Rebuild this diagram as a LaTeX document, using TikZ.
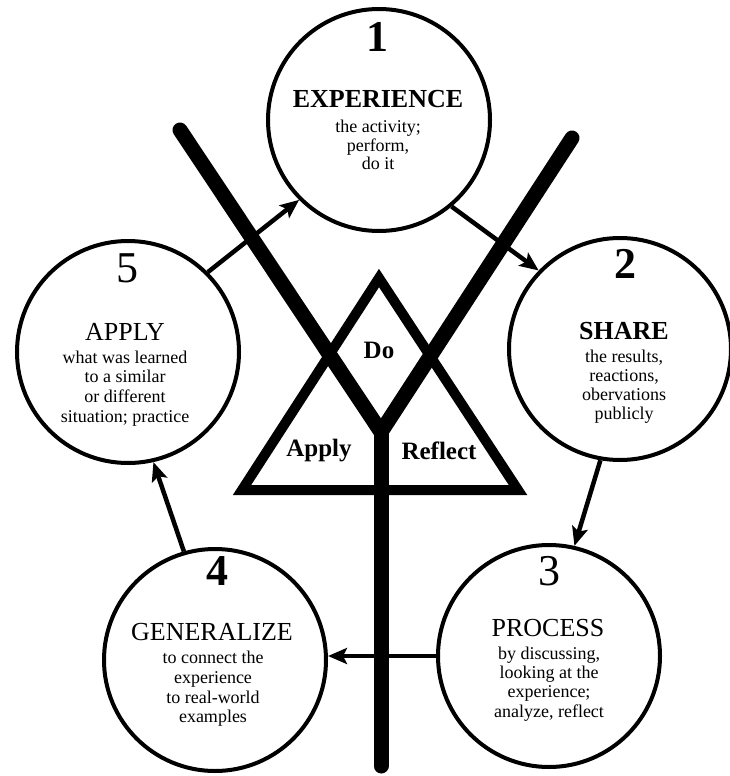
\documentclass[tikz,border=0pt]{standalone}
\usepackage{fontspec}
\setmainfont{Liberation Serif}
\usetikzlibrary{arrows.meta}
\begin{document}
\begin{tikzpicture}[x=1pt,y=-1pt,
  stage/.style={circle,draw,line width=4pt,minimum size=222pt,inner sep=0pt},
  flow/.style={line width=4.5pt,-{Stealth[length=19pt,width=16pt,inset=4pt]}},
  num/.style={anchor=base,inner sep=0pt,font=\fontsize{44}{44}\selectfont},
  numb/.style={anchor=base,inner sep=0pt,font=\fontsize{44}{44}\selectfont\bfseries},
  head/.style={anchor=base,inner sep=0pt,font=\fontsize{26}{26}\selectfont},
  headb/.style={anchor=base,inner sep=0pt,font=\fontsize{26}{26}\selectfont\bfseries},
  body/.style={anchor=base,inner sep=0pt,font=\fontsize{18}{20}\selectfont},
  trilabel/.style={anchor=base,inner sep=0pt,font=\fontsize{25}{25}\selectfont\bfseries},
  ybar/.style={line width=15pt,line cap=round,line join=miter},
  trisides/.style={line width=10pt,line join=miter}
  ]
\useasboundingbox (0,0) rectangle (729,776);

% triangle
\coordinate (ta) at (379,278);
\coordinate (tl) at (242,490);
\coordinate (tr) at (518,490);
\draw[trisides] (ta) -- (tl) -- (tr) -- cycle;

% Y
\coordinate (yl) at (180,130);
\coordinate (yr) at (572,138);
\coordinate (yv) at (381,432);
\coordinate (yb) at (381,766);
\draw[ybar] (yv) -- (yb);
\draw[ybar] (yl) -- (yv) -- (yr);

% circles
\node[stage] (c1) at (379,120) {};
\node[stage] (c2) at (620,349) {};
\node[stage] (c3) at (549,656) {};
\node[stage] (c4) at (215,660) {};
\node[stage] (c5) at (128,352) {};

% arrows
\draw[flow] (c5.45) -- (c1.225);
\draw[flow] (c1.310) -- (c2.136);
\draw[flow] (c2.260) -- (c3.77);
\draw[flow] (c3.west) -- (c3.west -| c4.east);
\draw[flow] (c4.106) -- (c5.283);

% circle 1
\node[numb] (n1) at (377,52) {1};
\node[headb] (h1) at (378,107) {EXPERIENCE};
\node[body] (b1a) at (378,132) {the activity;};
\node[body] (b1b) at (378,151) {perform,};
\node[body] (b1c) at (378,169) {do it};

% circle 2
\node[numb] (n2) at (625,278) {2};
\node[headb] (h2) at (624,339) {SHARE};
\node[body] (b2a) at (624,362) {the results,};
\node[body] (b2b) at (624,381) {reactions,};
\node[body] (b2c) at (624,400) {obervations};
\node[body] (b2d) at (624,419) {publicly};

% circle 3
\node[num] (n3) at (549,585) {3};
\node[head] (h3) at (548,636) {PROCESS};
\node[body] (b3a) at (549,659) {by discussing,};
\node[body] (b3b) at (549,678) {looking at the};
\node[body] (b3c) at (549,697) {experience;};
\node[body] (b3d) at (549,717) {analyze, reflect};

% circle 4
\node[numb] (n4) at (217,585) {4};
\node[head] (h4) at (212,640) {GENERALIZE};
\node[body] (b4a) at (213,663) {to connect the};
\node[body] (b4b) at (213,683) {experience};
\node[body] (b4c) at (213,703) {to real-world};
\node[body] (b4d) at (213,722) {examples};

% circle 5
\node[num] (n5) at (127,282) {5};
\node[head] (h5) at (125,340) {APPLY};
\node[body] (b5a) at (125,363) {what was learned};
\node[body] (b5b) at (125,382) {to a similar};
\node[body] (b5c) at (125,402) {or different};
\node[body] (b5d) at (125,422) {situation; practice};

% triangle labels
\node[trilabel] (tdo) at (379,358) {Do};
\node[trilabel] (tap) at (319,456) {Apply};
\node[trilabel] (tre) at (439,459) {Reflect};
\end{tikzpicture}
\end{document}
